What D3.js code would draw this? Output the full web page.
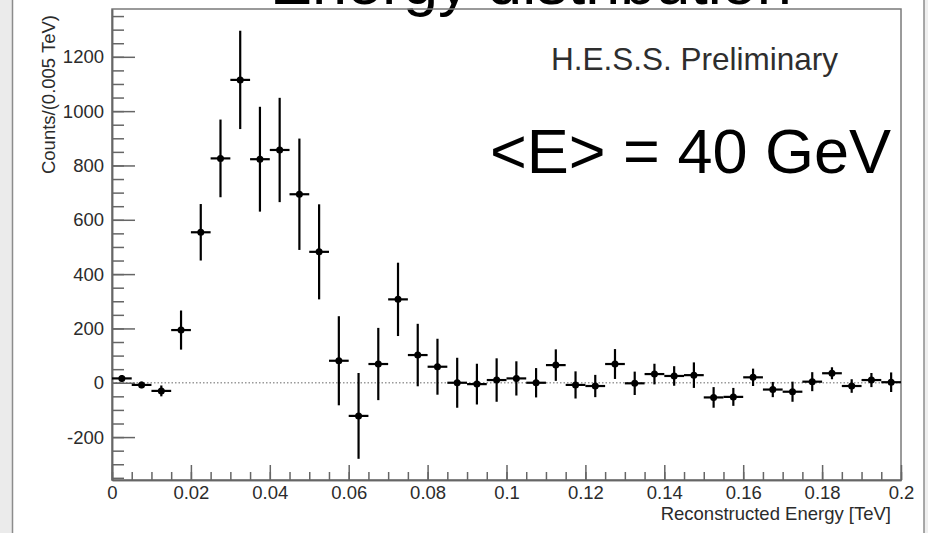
<!DOCTYPE html>
<html>
<head>
<meta charset="utf-8">
<script src="https://cdn.jsdelivr.net/npm/d3@7"></script>
<style>
	body { margin: 0; background: #fff; }
	svg { display: block; font-family: "Liberation Sans", Arial, sans-serif; }
</style>
</head>
<body>
<svg id="canvas" width="928" height="533"></svg>
<script>
// bin centres (TeV), counts per bin and their errors
const binCenters = [0.0025, 0.0075, 0.0125, 0.0175, 0.0225, 0.0275, 0.0325, 0.0375, 0.0425, 0.0475,
	0.0525, 0.0575, 0.0625, 0.0675, 0.0725, 0.0775, 0.0825, 0.0875, 0.0925, 0.0975,
	0.1025, 0.1075, 0.1125, 0.1175, 0.1225, 0.1275, 0.1325, 0.1375, 0.1425, 0.1475,
	0.1525, 0.1575, 0.1625, 0.1675, 0.1725, 0.1775, 0.1825, 0.1875, 0.1925, 0.1975];
const counts = [16, -8, -30, 194, 554, 826, 1115, 823, 857, 694,
	482, 81, -122, 69, 307, 102, 59, 0, -5, 10,
	16, 0, 65, -8, -12, 69, -2, 32, 25, 28,
	-54, -52, 20, -25, -33, 4, 35, -12, 10, 2];
const errors = [12, 12, 20, 72, 104, 143, 181, 193, 192, 205,
	175, 164, 158, 133, 135, 115, 103, 92, 75, 80,
	63, 54, 58, 50, 41, 55, 43, 38, 36, 47,
	38, 33, 32, 28, 37, 35, 22, 25, 26, 36];
const binHalfWidth = 0.0025;

const xMajor = [0, 0.02, 0.04, 0.06, 0.08, 0.1, 0.12, 0.14, 0.16, 0.18, 0.2];
const xMinor = d3.range(0, 41).map((i) => i * 0.005);
const yMajor = [-200, 0, 200, 400, 600, 800, 1000, 1200];
const yMinor = d3.range(-7, 28).map((i) => i * 50);

const svg = d3.select('#canvas');

// page frame around the canvas
svg.append('rect').attr('x', 0).attr('y', 0).attr('width', 12).attr('height', 533).attr('fill', '#ebebeb');
svg.append('line').attr('x1', 12.5).attr('x2', 12.5).attr('y1', 0).attr('y2', 533).attr('stroke', '#8c8c8c').attr('stroke-width', 1.5);
svg.append('rect').attr('x', 924).attr('y', 0).attr('width', 4).attr('height', 533).attr('fill', '#efefef');
svg.append('line').attr('x1', 924).attr('x2', 924).attr('y1', 0).attr('y2', 533).attr('stroke', '#8c8c8c').attr('stroke-width', 1.5);

const x = d3.scaleLinear().domain([0, 0.2]).range([112, 901]);
const y = d3.scaleLinear().domain([-358, 1376]).range([480, 9]);

// title, partly cut by the top edge
svg.append('text')
	.attr('x', 270).attr('y', 4)
	.attr('font-size', 63)
	.attr('fill', '#000')
	.text('Energy distribution');

// plot frame
svg.append('rect')
	.attr('x', x(0)).attr('y', y(1376))
	.attr('width', x(0.2) - x(0)).attr('height', y(-358) - y(1376))
	.attr('fill', 'none').attr('stroke', '#7a7a7a').attr('stroke-width', 1.5);

// zero line
svg.append('line')
	.attr('x1', x(0)).attr('x2', x(0.2))
	.attr('y1', y(0)).attr('y2', y(0))
	.attr('stroke', '#9a9a9a').attr('stroke-width', 1.5)
	.attr('stroke-dasharray', '1.5,2');

// axes (plain hyphen for negatives, like the original)
const yAxis = svg.append('g').attr('transform', `translate(${x(0)},0)`)
	.call(d3.axisLeft(y).tickValues(yMajor).tickSizeInner(-23).tickSizeOuter(0).tickPadding(8).tickFormat((d) => String(d)));
const yAxisMinor = svg.append('g').attr('transform', `translate(${x(0)},0)`)
	.call(d3.axisLeft(y).tickValues(yMinor).tickSizeInner(-12).tickSizeOuter(0).tickFormat(''));
const xAxis = svg.append('g').attr('transform', `translate(0,${y(-358)})`)
	.call(d3.axisBottom(x).tickValues(xMajor).tickSizeInner(-15).tickSizeOuter(0).tickPadding(6).tickFormat((d) => String(+d.toFixed(3))));
const xAxisMinor = svg.append('g').attr('transform', `translate(0,${y(-358)})`)
	.call(d3.axisBottom(x).tickValues(xMinor).tickSizeInner(-8).tickSizeOuter(0).tickFormat(''));

[yAxis, yAxisMinor, xAxis, xAxisMinor].forEach((g) => {
	g.select('.domain').attr('stroke', '#666').attr('stroke-width', 1.5);
	g.selectAll('.tick line').attr('stroke', '#666').attr('stroke-width', 1.5);
	g.selectAll('.tick text')
		.attr('font-size', 18.5)
		.attr('font-family', '"Liberation Sans", Arial, sans-serif')
		.attr('fill', '#2b2b2b');
});

// axis titles
svg.append('text')
	.attr('transform', 'translate(55,15) rotate(-90)')
	.attr('text-anchor', 'end')
	.attr('font-size', 18.5)
	.attr('fill', '#2b2b2b')
	.text('Counts/(0.005 TeV)');
svg.append('text')
	.attr('x', 891).attr('y', 520)
	.attr('text-anchor', 'end')
	.attr('font-size', 18.5)
	.attr('fill', '#2b2b2b')
	.text('Reconstructed Energy [TeV]');

// data points with error bars
const points = binCenters.map((c, i) => [c, counts[i], errors[i]]);
const marks = svg.append('g');

marks.selectAll('line.xerr')
	.data(points)
	.enter()
	.append('line')
	.attr('class', 'xerr')
	.attr('x1', (d) => x(d[0] - binHalfWidth))
	.attr('x2', (d) => x(d[0] + binHalfWidth))
	.attr('y1', (d) => y(d[1]))
	.attr('y2', (d) => y(d[1]))
	.attr('stroke', '#000')
	.attr('stroke-width', 2.2);

marks.selectAll('line.yerr')
	.data(points)
	.enter()
	.append('line')
	.attr('class', 'yerr')
	.attr('x1', (d) => x(d[0]))
	.attr('x2', (d) => x(d[0]))
	.attr('y1', (d) => y(d[1] - d[2]))
	.attr('y2', (d) => y(d[1] + d[2]))
	.attr('stroke', '#000')
	.attr('stroke-width', 2.2);

marks.selectAll('circle')
	.data(points)
	.enter()
	.append('circle')
	.attr('cx', (d) => x(d[0]))
	.attr('cy', (d) => y(d[1]))
	.attr('r', 3.5)
	.attr('fill', '#000');

// labels inside the plot
svg.append('text')
	.attr('x', 551).attr('y', 70)
	.attr('font-size', 31.5)
	.attr('fill', '#2e2e2e')
	.text('H.E.S.S. Preliminary');
svg.append('text')
	.attr('x', 490).attr('y', 173)
	.attr('font-size', 63)
	.attr('fill', '#000')
	.text('<E> = 40 GeV');
</script>
</body>
</html>
